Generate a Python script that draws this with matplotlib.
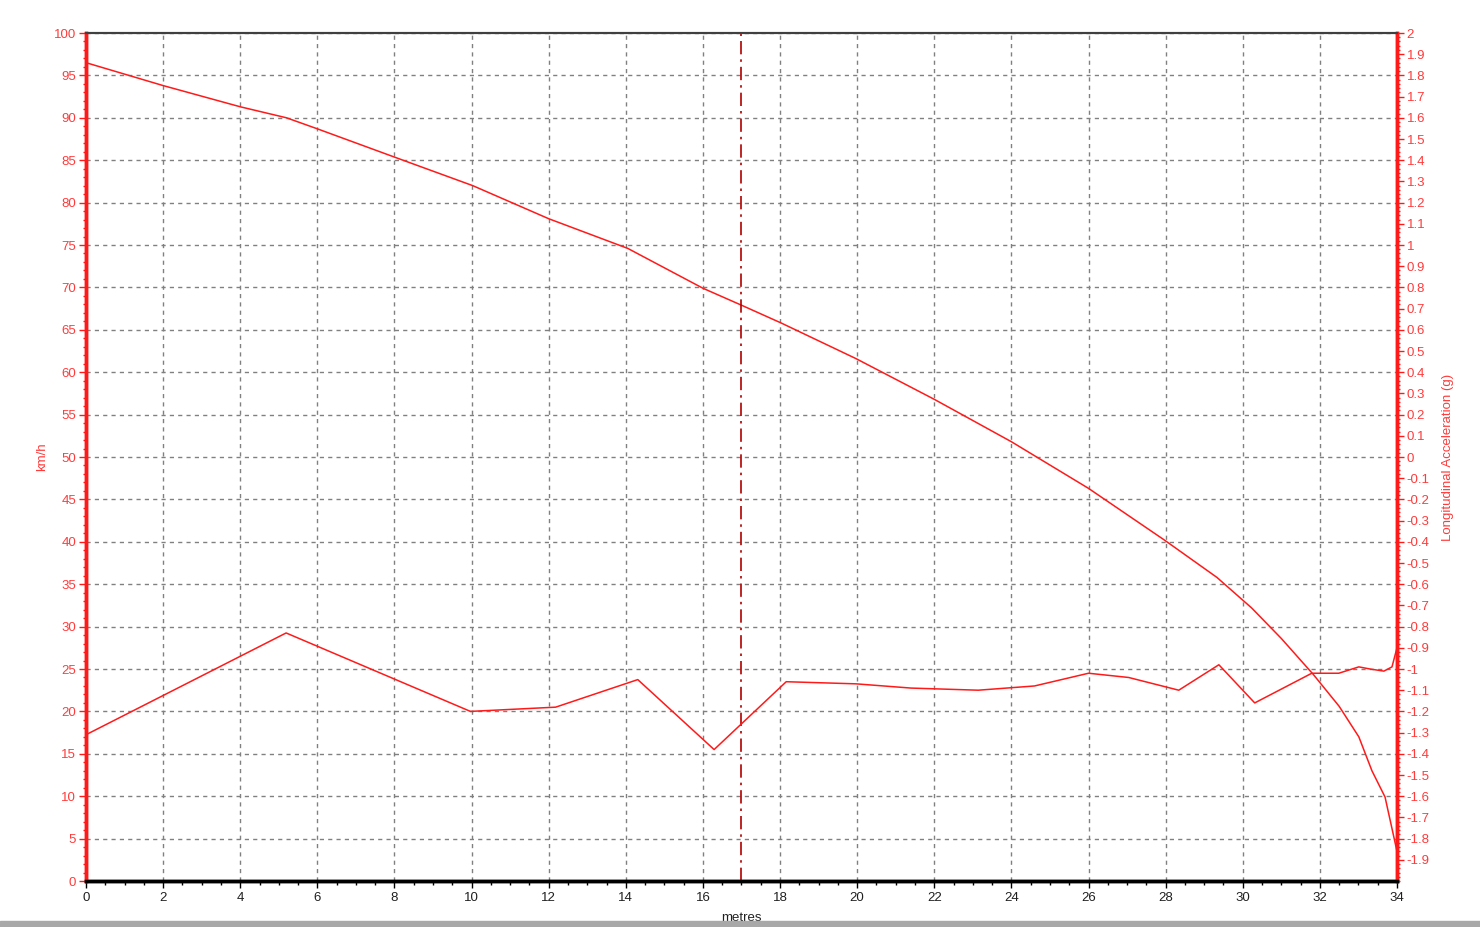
import numpy as np
import matplotlib
matplotlib.use('Agg')
import matplotlib.pyplot as plt
from matplotlib.ticker import MultipleLocator, FixedLocator, FuncFormatter

# Distancia (m) y velocidad (km/h)
speed_x = [0, 2, 4, 5.2, 6, 8.16, 10.03, 12.0, 14.05, 16.0, 17.0, 18.03, 19.97,
           22.0, 24.0, 26.0, 27.97, 29.33, 30.23, 31.0, 31.84, 32.5, 33.01, 33.35, 33.69, 34.0]
speed_kmh = [96.5, 93.8, 91.3, 90.0, 88.7, 85.1, 82.0, 78.1, 74.6, 69.9, 67.9, 65.8, 61.6,
             56.8, 51.8, 46.3, 40.2, 35.8, 32.2, 28.6, 24.3, 20.6, 17.0, 13.0, 9.9, 3.5]

# Aceleracion longitudinal (g)
acc_x = [0, 5.19, 9.97, 12.18, 14.31, 16.29, 18.16, 19.97, 21.4, 23.14, 24.6, 26.0,
         27.04, 28.34, 29.38, 30.31, 31.79, 32.49, 33.01, 33.3, 33.66, 33.87, 34.0]
acc_g = [-1.31, -0.83, -1.2, -1.18, -1.05, -1.38, -1.06, -1.07, -1.09, -1.10, -1.08, -1.02,
         -1.04, -1.10, -0.98, -1.16, -1.02, -1.02, -0.99, -1.0, -1.01, -0.99, -0.9]

marker_x = 17.0

RED = '#ff1a1a'
LABEL_RED = '#ff3b3b'

plt.rcParams['font.family'] = ['Liberation Sans', 'DejaVu Sans']

fig = plt.figure(figsize=(14.8, 9.27), dpi=100)
ax = fig.add_axes([86 / 1480, 1 - 881 / 927, (1397 - 86) / 1480, (881 - 33) / 927])
ax2 = ax.twinx()

ax.plot(speed_x, speed_kmh, color=RED, lw=1.1, zorder=3)
ax2.plot(acc_x, acc_g, color=RED, lw=1.1, zorder=3)
ax.axvline(marker_x, color='#b00000', lw=1.2, ls=(0, (8, 3, 1.5, 3)), zorder=4)

ax.set_xlim(0, 34)
ax.set_ylim(0, 100)
ax2.set_ylim(-2, 2)

ax.xaxis.set_major_locator(MultipleLocator(2))
ax.xaxis.set_minor_locator(MultipleLocator(0.5))
ax.yaxis.set_major_locator(MultipleLocator(5))
ax.yaxis.set_minor_locator(MultipleLocator(1))
ax2.yaxis.set_major_locator(FixedLocator(np.round(np.arange(-1.9, 2.01, 0.1), 1)))
ax2.yaxis.set_minor_locator(MultipleLocator(0.02))


def fmt_g(v, pos):
    v = round(v, 1)
    if v == 0:
        return '0'
    return f'{v:g}'


ax2.yaxis.set_major_formatter(FuncFormatter(fmt_g))

ax.grid(True, which='major', color='#808080', ls=(0, (3, 3)), lw=1.0)

for a in (ax, ax2):
    a.spines['left'].set_color(RED)
    a.spines['left'].set_linewidth(2.5)
    a.spines['right'].set_color(RED)
    a.spines['right'].set_linewidth(2.5)
    a.spines['bottom'].set_color('black')
    a.spines['bottom'].set_linewidth(2.5)
    a.spines['top'].set_color('#404040')
    a.spines['top'].set_linewidth(1.5)

ax.tick_params(axis='x', which='major', length=5, width=1, color='black',
               labelsize=9.5, labelcolor='#202020', pad=3)
ax.tick_params(axis='x', which='minor', length=3, width=1, color='black')
ax.tick_params(axis='y', which='major', length=5, width=1, color=RED,
               labelsize=9.5, labelcolor=LABEL_RED, pad=2)
ax.tick_params(axis='y', which='minor', length=2, width=1, color=RED)
ax2.tick_params(axis='y', which='major', length=5, width=1, color=RED,
                labelsize=9.5, labelcolor=LABEL_RED, pad=2)
ax2.tick_params(axis='y', which='minor', length=2.5, width=1, color=RED)

ax.set_xlabel('metres', fontsize=9.5, color='#202020', labelpad=5.5)
ax.set_ylabel('km/h', fontsize=9.5, color=LABEL_RED, labelpad=4)
ax2.set_ylabel('Longitudinal Acceleration (g)', fontsize=9.5, color=LABEL_RED, labelpad=9)

# Barra gris inferior de la ventana
fig.patches.append(plt.Rectangle((0, 0), 1, 6 / 927, transform=fig.transFigure,
                                 color='#a8a8a8', zorder=0))

fig.savefig('out.png', dpi=100)
